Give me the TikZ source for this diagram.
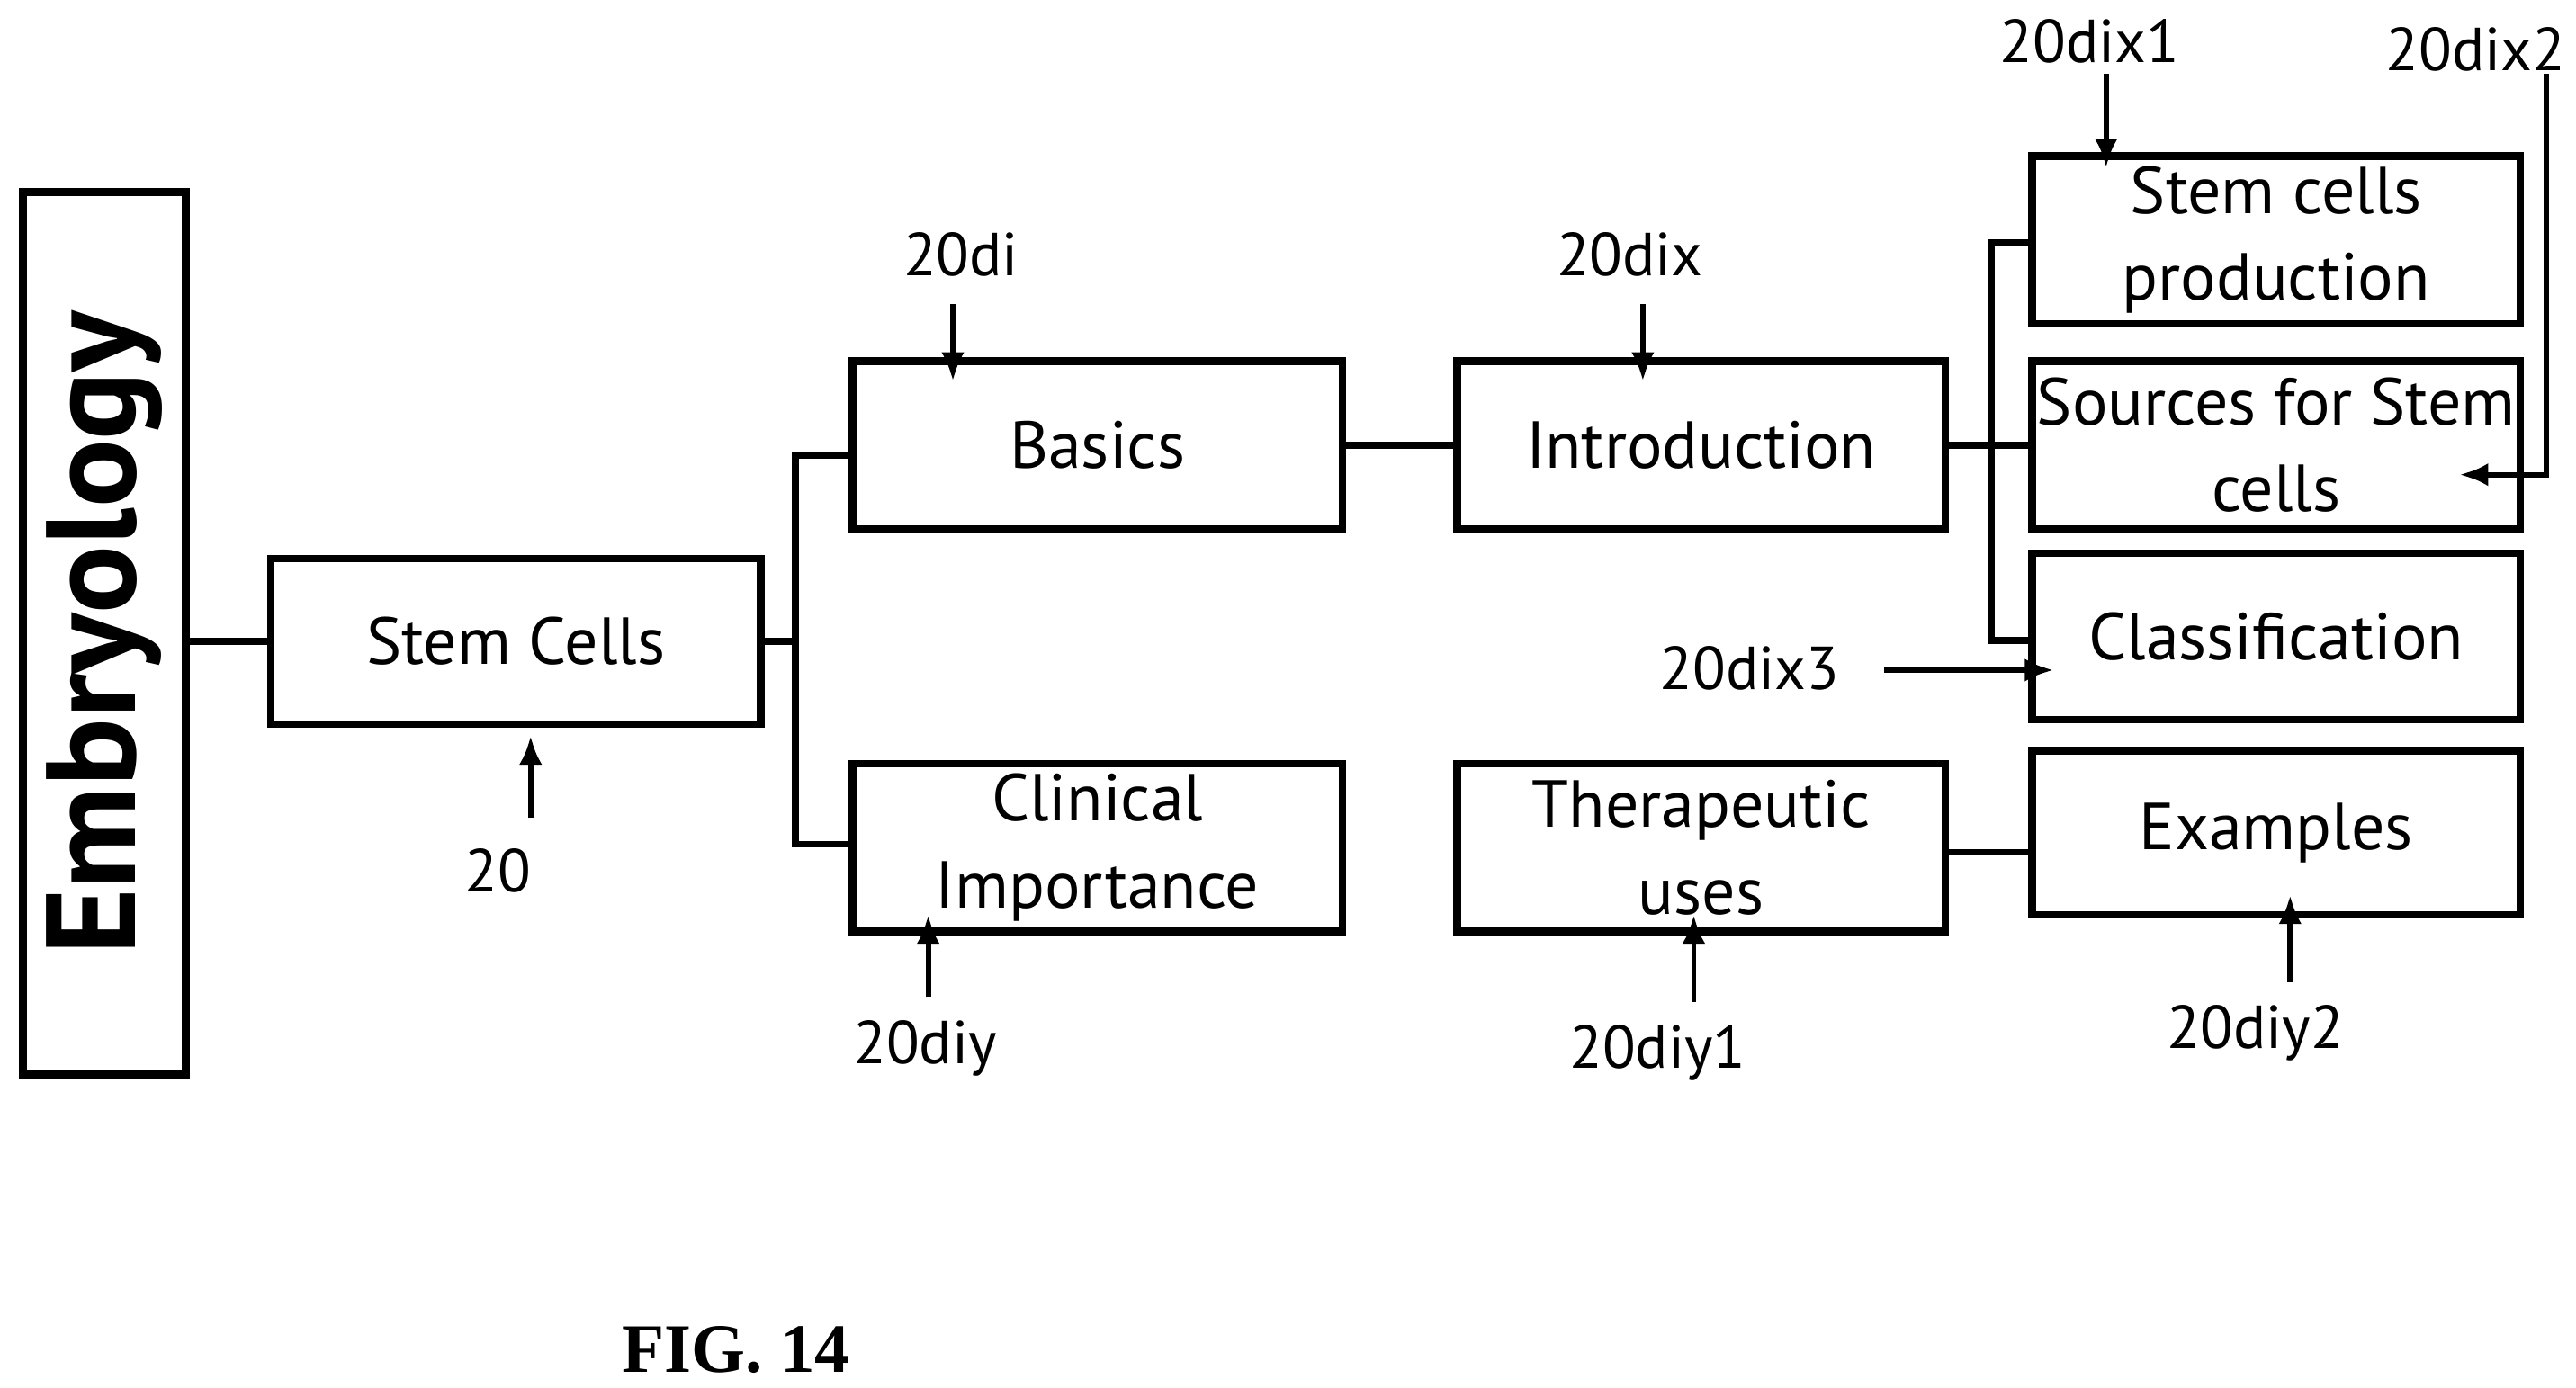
\documentclass[tikz,border=0pt]{standalone}
\usepackage{fontspec}
\setmainfont{PT Sans}
\usetikzlibrary{arrows.meta}
\begin{document}
\begin{tikzpicture}[x=0.01cm,y=-0.01cm,
	box/.style={draw,line width=1.3pt,inner sep=0pt,align=center,font=\fontsize{11.5}{15}\selectfont},
	lbl/.style={font=\fontsize{10.5}{12}\selectfont},
	ln/.style={line width=1.2pt},
	arr/.style={line width=0.9pt,-{Latex[length=5pt,width=4pt]}}]
	\useasboundingbox (0,0) rectangle (1568,845);
	
	% boxes
	\node[box,minimum width=0.99cm,minimum height=5.37cm] (emb) at (63.5,385.5) {};
	\node[rotate=90,font=\fontsize{22}{24}\selectfont\bfseries] at (63.5,385.5) {Embryology};
	\node[box,minimum width=2.98cm,minimum height=1.01cm] (sc) at (314,390.5) {Stem Cells};
	\node[box,minimum width=2.98cm,minimum height=1.02cm] (bas) at (668,271) {Basics};
	\node[box,minimum width=2.98cm,minimum height=1.02cm] (cli) at (668,516) {Clinical\\Importance};
	\node[box,minimum width=2.97cm,minimum height=1.02cm] (intro) at (1035.5,271) {Introduction};
	\node[box,minimum width=2.97cm,minimum height=1.02cm] (ther) at (1035.5,516) {Therapeutic\\uses};
	\node[box,minimum width=2.97cm,minimum height=1.02cm] (prod) at (1385.5,146) {Stem cells\\production};
	\node[box,minimum width=2.97cm,minimum height=1.02cm] (src) at (1385.5,271) {Sources for Stem\\cells};
	\node[box,minimum width=2.97cm,minimum height=1.01cm] (cls) at (1385.5,387.5) {Classification};
	\node[box,minimum width=2.97cm,minimum height=1.00cm] (ex) at (1385.5,507) {Examples};
	
	% connectors
	\draw[ln] (emb.east |- sc) -- (sc.west);
	\draw[ln] (sc.east) -- (484,390.5) coordinate (j1);
	\draw[ln] (bas.west |- 0,277) -| (j1) |- (cli.west |- 0,514);
	\draw[ln] (bas.east) -- (intro.west);
	\draw[ln] (intro.east) -- (src.west);
	\draw[ln] (prod.west |- 0,148) -| (1212,271) |- (cls.west |- 0,390);
	\draw[ln] (ther.east |- 0,519) -- (ex.west |- 0,519);
	
	% reference labels
	\node[lbl] (l20) at (303,530) {20};
	\node[lbl] (l20di) at (585,155) {20di};
	\node[lbl] (l20dix) at (992,155) {20dix};
	\node[lbl] (l20dix1) at (1272,25) {20dix1};
	\node[lbl] (l20dix2) at (1507,30) {20dix2};
	\node[lbl] (l20dix3) at (1065,407) {20dix3};
	\node[lbl] (l20diy) at (563,638) {20diy};
	\node[lbl] (l20diy1) at (1009,641) {20diy1};
	\node[lbl] (l20diy2) at (1373,629) {20diy2};
	\draw[arr] (323,498) -- (323,448);
	\draw[arr] (580,185) -- (580,232);
	\draw[arr] (1000,185) -- (1000,232);
	\draw[arr] (1282,45) -- (1282,102);
	\draw[arr] (1550,45) |- (1497,289);
	\draw[arr] (1147,408) -- (1250,408);
	\draw[arr] (565,607) -- (565,557);
	\draw[arr] (1031,610) -- (1031,557);
	\draw[arr] (1394,598) -- (1394,545);
	
	\node[font=\fontspec{Liberation Serif}\fontsize{12}{14}\selectfont\bfseries] (fig) at (448,822) {FIG. 14};
\end{tikzpicture}
\end{document}
